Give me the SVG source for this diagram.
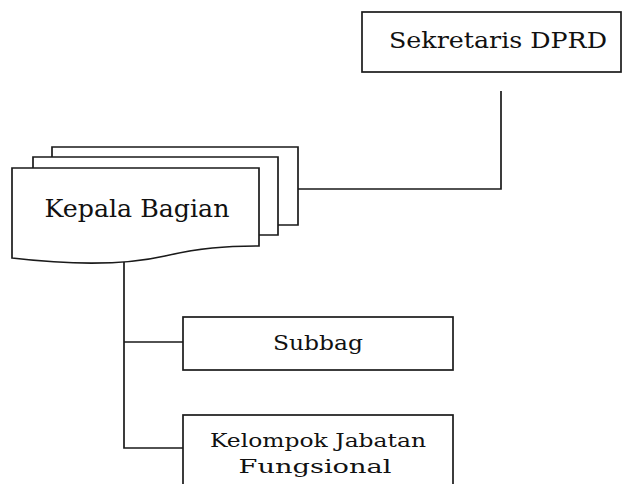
<svg xmlns="http://www.w3.org/2000/svg" width="623" height="484" viewBox="0 0 623 484">
<style>
.b{fill:#fff;stroke:#1a1a1a;stroke-width:1.7}
.c{fill:none;stroke:#1a1a1a;stroke-width:1.7}
.t{font-family:"DejaVu Serif","Liberation Serif",serif;fill:#111;text-anchor:middle}
</style>
<rect width="623" height="484" fill="#fff"/>
<g id="connectors">
<path class="c" d="M501,91 V189 H298"/>
<path class="c" d="M124,262 V448 H183 M124,342 H183"/>
</g>
<g id="sekretaris">
<rect class="b" x="362" y="12" width="259" height="60"/>
<text class="t" x="498" y="48" font-size="22" textLength="218" lengthAdjust="spacingAndGlyphs">Sekretaris DPRD</text>
</g>
<g id="kepala">
<path class="b" d="M52,147 H298 V225 H52 Z"/>
<path class="b" d="M33,157 H278 V235 H33 Z"/>
<path class="b" d="M12,168 H259 V246 C225,246 200,248 165,256 C130,264 80,266 12,258 Z"/>
<text class="t" x="137" y="217" font-size="24" textLength="185" lengthAdjust="spacingAndGlyphs">Kepala Bagian</text>
</g>
<g id="subbag">
<rect class="b" x="183" y="317" width="270" height="53"/>
<text class="t" x="318" y="350" font-size="20" textLength="90" lengthAdjust="spacingAndGlyphs">Subbag</text>
</g>
<g id="kelompok">
<rect class="b" x="183" y="415" width="270" height="75"/>
<text class="t" x="318" y="447" font-size="19" textLength="216" lengthAdjust="spacingAndGlyphs">Kelompok Jabatan</text>
<text class="t" x="315" y="473" font-size="19" textLength="153" lengthAdjust="spacingAndGlyphs">Fungsional</text>
</g>
</svg>
